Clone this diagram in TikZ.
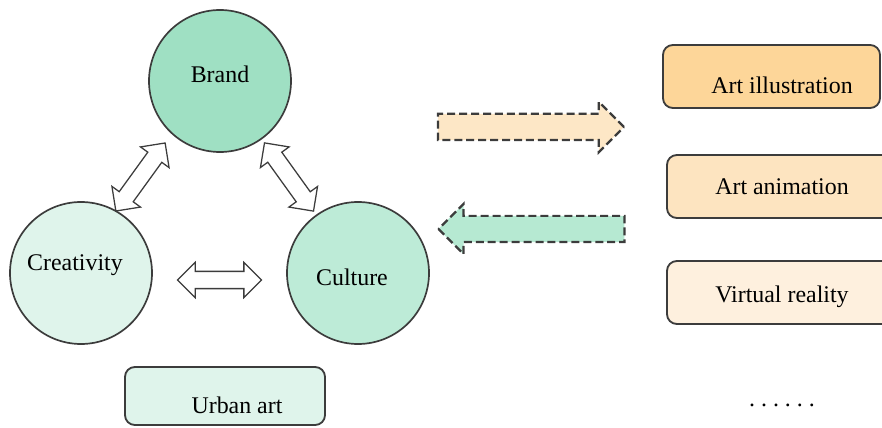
\documentclass[tikz,border=0pt]{standalone}
\usepackage{fontspec}
\setmainfont{Liberation Serif}
\usetikzlibrary{shapes.arrows}

\definecolor{brandgreen}{HTML}{9FE0C3}
\definecolor{culturegreen}{HTML}{BDEBD7}
\definecolor{palegreen}{HTML}{DFF4EB}
\definecolor{flowgreen}{HTML}{B6E9D2}
\definecolor{orangeA}{HTML}{FDD699}
\definecolor{orangeB}{HTML}{FDE4C0}
\definecolor{orangeC}{HTML}{FEF0DE}
\definecolor{floworange}{HTML}{FDE7C6}
\definecolor{rim}{HTML}{3C3C3C}

\tikzset{
  ball/.style={circle, draw=rim, line width=1.2pt, minimum size=3.55cm, inner sep=0pt},
  tag/.style={rectangle, rounded corners=7pt, draw=rim, line width=1.3pt, minimum height=1.575cm, inner sep=0pt},
  twoway/.style={double arrow, draw=rim, fill=white, line width=0.9pt, minimum height=2.1cm,
    inner xsep=0pt, inner ysep=0.2cm, double arrow head extend=0.225cm},
  flow/.style={single arrow, draw=rim, dash pattern=on 5.7pt off 2.8pt, line width=1.6pt, minimum height=4.65cm,
    inner xsep=0pt, inner ysep=0.3cm, single arrow head extend=0.3cm}
}

\begin{document}
\begin{tikzpicture}[font=\fontsize{17}{20}\selectfont]
  \useasboundingbox (0,0) rectangle (22.05,10.675);

  % Circles
  \node[ball, fill=brandgreen] (bra) at (5.5,8.65) {};
  \node[ball, fill=palegreen] (cre) at (2.025,3.85) {};
  \node[ball, fill=culturegreen] (cul) at (8.95,3.85) {};
  \node (bratext) at (5.5,8.825) {Brand};
  \node (cretext) at (1.875,4.05) {Creativity};
  \node (cultext) at (8.8,3.75) {Culture};

  % Hollow double arrows between the circles
  \path ([xshift=-0.25cm]cre.center) -- ([xshift=-0.25cm]bra.center) node[twoway, midway, sloped] (crebra) {};
  \path (bra.center) -- (cul.center) node[twoway, midway, sloped] (bracul) {};
  \path ([yshift=-0.175cm]cre.center) -- ([yshift=-0.175cm]cul.center) node[twoway, midway, sloped] (crecul) {};

  % Urban art
  \node[tag, fill=palegreen, minimum width=5cm, minimum height=1.45cm] (urban) at (5.625,0.775) {};
  \node (urbantext) at (5.925,0.55) {Urban art};

  % Dashed block arrows
  \node[flow, fill=floworange] (toright) at (13.11,7.5) {};
  \node[flow, fill=flowgreen, shape border rotate=180] (toleft) at (13.45,4.95) {};

  % Right-hand boxes
  \node[tag, fill=orangeA, minimum width=5.425cm] (illu) at (19.2875,8.7625) {};
  \node (illutext) at (19.55,8.55) {Art illustration};
  \node[tag, fill=orangeB, minimum width=5.75cm] (anim) at (19.55,6.0125) {Art animation};
  \node[tag, fill=orangeC, minimum width=5.75cm] (virt) at (19.55,3.3625) {};
  \node (virttext) at (19.55,3.25) {Virtual reality};
  \node (more) at (19.55,0.55) {\addfontfeature{LetterSpace=25}......};

\end{tikzpicture}
\end{document}
